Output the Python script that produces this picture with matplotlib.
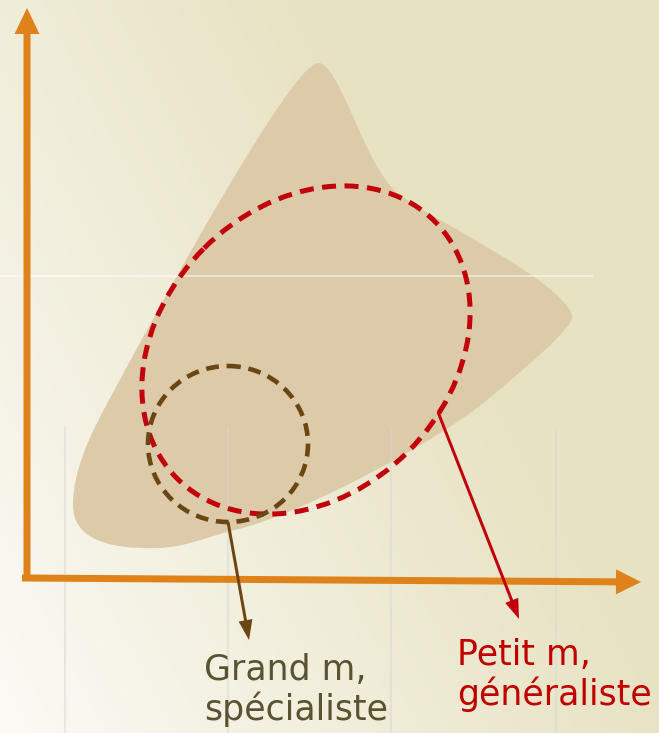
"""Schéma : niches spécialiste (grand m) vs généraliste (petit m)."""
import numpy as np
import matplotlib
matplotlib.use("Agg")
import matplotlib.pyplot as plt
from matplotlib.path import Path
from matplotlib.patches import PathPatch, Ellipse, FancyArrow

W, H = 659, 733

# contour de la niche fondamentale (courbes de Bézier, coordonnées pixel)
blob_start = (318, 63)
blob_segments = [
    [(340, 62), (365, 170), (400, 195)],
    [(440, 224), (560, 280), (572, 315)],
    [(576, 327), (520, 372), (487, 400)],
    [(440, 440), (300, 515), (235, 530)],
    [(205, 537), (185, 548), (155, 548)],
    [(110, 549), (73, 540), (73, 505)],
    [(73, 470), (90, 435), (109, 400)],
    [(145, 333), (290, 64), (318, 63)],
]

# ellipses pointillées : (centre, largeur, hauteur, angle)
generalist = ((306, 350), 364, 288, -45)
specialist = ((228, 444), 160, 156, 0)

# flèches d'annotation : départ -> pointe
arrow_spec = ((228, 522), (249, 640))
arrow_gen = ((438, 412), (519, 619))

labels = [["Grand m,", "spécialiste"], ["Petit m,", "généraliste"]]
label_base = [(204, 680), (457, 665)]   # ligne de base de la 1re ligne
line_step = 40

grid_x = [65, 228, 391, 556]

ORANGE = "#e0821a"
RED = "#c2000c"
BROWN = "#6b4512"

fig = plt.figure(figsize=(W / 100, H / 100), dpi=100)
ax = fig.add_axes([0, 0, 1, 1])
ax.set_xlim(0, W)
ax.set_ylim(H, 0)
ax.axis("off")

# fond dégradé
xx, yy = np.meshgrid(np.linspace(0, 1, 200), np.linspace(0, 1, 200))
t = np.clip(0.95 * xx + 0.55 * (1 - yy), 0, 1)[..., None]
c0 = np.array([251, 250, 245]) / 255
c1 = np.array([231, 226, 194]) / 255
ax.imshow(c0 * (1 - t) + c1 * t, extent=(0, W, H, 0), aspect="auto", zorder=0)

# niche
verts = [blob_start]
codes = [Path.MOVETO]
for seg in blob_segments:
    verts += seg
    codes += [Path.CURVE4] * 3
ax.add_patch(PathPatch(Path(verts, codes), facecolor="#dccaa9", edgecolor="none", zorder=1))

# lignes fantômes de la diapo
for gx in grid_x:
    ax.plot([gx, gx], [428, H], color="#d8d8d8", lw=1.5, alpha=0.5, zorder=2)
ax.plot([0, 592], [276, 276], color="white", lw=1.5, alpha=0.5, zorder=2)

# axes orange
ax.add_patch(FancyArrow(27, 580, 0, -572, width=7, head_width=25, head_length=26,
                        length_includes_head=True, color=ORANGE, lw=0, zorder=3))
ax.add_patch(FancyArrow(22, 578, 619, 4, width=7, head_width=25, head_length=25,
                        length_includes_head=True, color=ORANGE, lw=0, zorder=3))

# niches réalisées
for (c, w, h, a), col, lw in [(generalist, RED, 3.6), (specialist, BROWN, 3.3)]:
    ax.add_patch(Ellipse(c, w, h, angle=a, fill=False, edgecolor=col, lw=lw,
                         linestyle=(0, (2.8, 1.7)), zorder=4))

for (p0, p1), col in [(arrow_spec, BROWN), (arrow_gen, RED)]:
    ax.add_patch(FancyArrow(p0[0], p0[1], p1[0] - p0[0], p1[1] - p0[1], width=3,
                            head_width=14, head_length=20, length_includes_head=True,
                            color=col, lw=0, zorder=5))

for lines, (x, y), col in zip(labels, label_base, ["#5a5330", "#c00000"]):
    for i, txt in enumerate(lines):
        ax.text(x, y + i * line_step, txt, color=col, fontsize=25, family="DejaVu Sans",
                va="baseline", ha="left", zorder=6)

fig.savefig("out.png", dpi=100)
